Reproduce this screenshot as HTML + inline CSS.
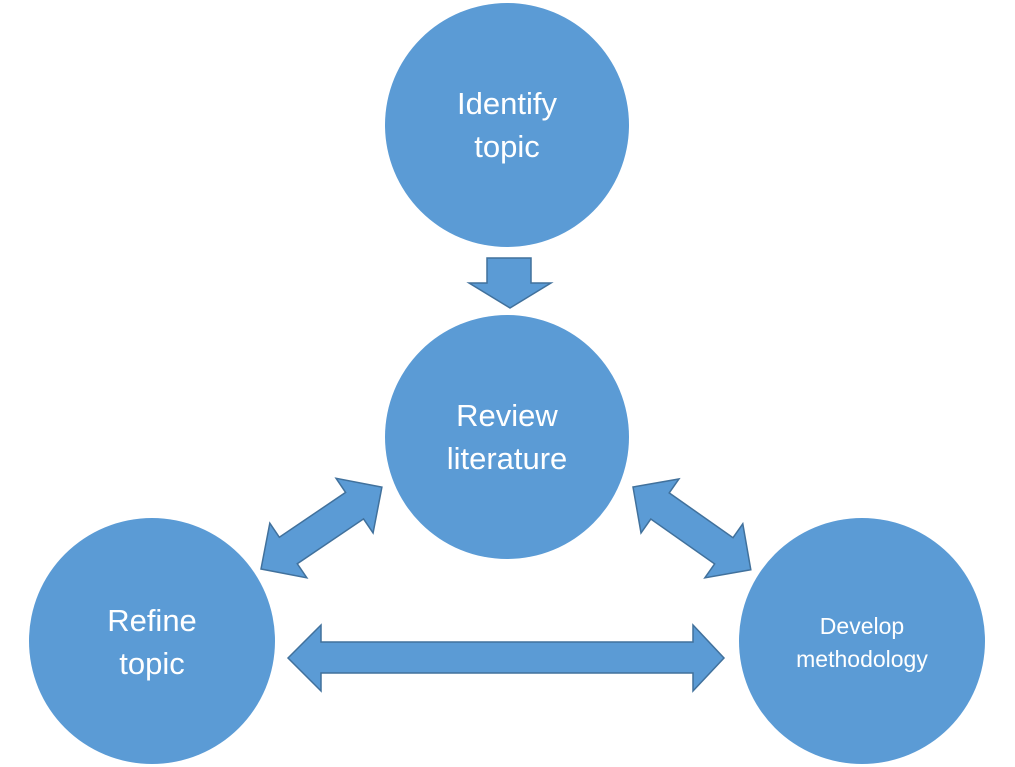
<!DOCTYPE html>
<html><head><style>
html,body{margin:0;padding:0;background:#fff;}
svg{display:block;}
text{font-family:"Liberation Sans",sans-serif;fill:#fff;text-anchor:middle;}
</style></head><body>
<svg width="1015" height="767" viewBox="0 0 1015 767">
<g fill="#5b9bd5">
<circle cx="507" cy="125" r="122"/>
<circle cx="507" cy="437" r="122"/>
<circle cx="152" cy="641" r="123"/>
<circle cx="862" cy="641" r="123"/>
</g>
<g fill="#5b9bd5" stroke="#41719c" stroke-width="1.5" stroke-linejoin="miter">
<polygon points="487,258 531,258 531,283 551,283 510,308 469,283 487,283"/>
<polygon points="288,658 321,625 321,642 693,642 693,625 724,658 693,691 693,673 321,673 321,691"/>
<g transform="translate(261,569) rotate(-34.1)">
<polygon points="0,0 33,-33 33,-16 113,-16 113,-33 146,0 113,33 113,16 33,16 33,33"/>
</g>
<g transform="translate(633,487) rotate(35.1)">
<polygon points="0,0 33,-33 33,-16 111,-16 111,-33 144,0 111,33 111,16 33,16 33,33"/>
</g>
</g>
<text x="507" y="114" font-size="31">Identify</text>
<text x="507" y="157" font-size="31">topic</text>
<text x="507" y="426" font-size="31">Review</text>
<text x="507" y="469" font-size="31">literature</text>
<text x="152" y="631" font-size="31">Refine</text>
<text x="152" y="674" font-size="31">topic</text>
<text x="862" y="634" font-size="23">Develop</text>
<text x="862" y="667" font-size="23">methodology</text>
</svg>
</body></html>
